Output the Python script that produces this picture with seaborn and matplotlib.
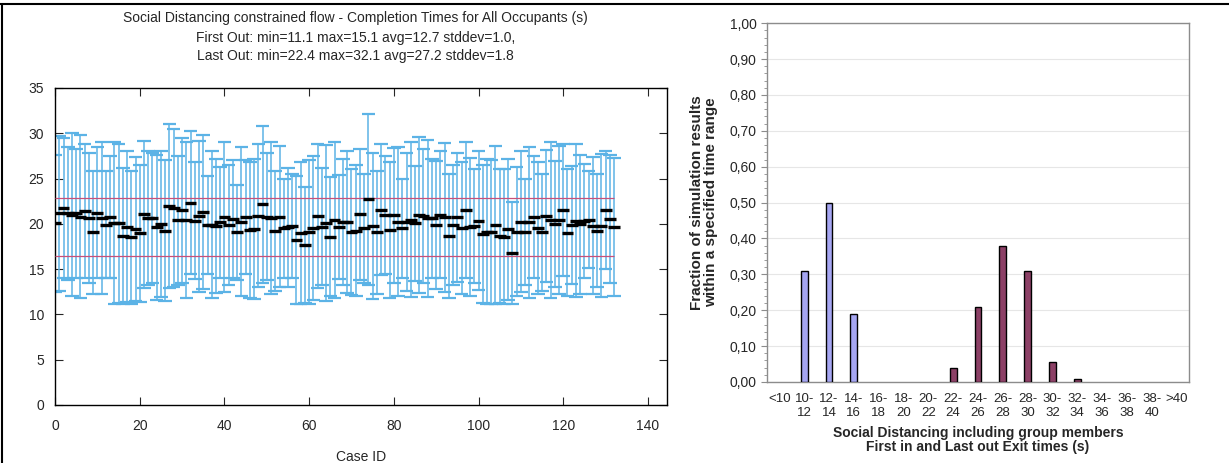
import numpy as np
import pandas as pd
import seaborn as sns
import matplotlib.pyplot as plt
from matplotlib.ticker import MultipleLocator, FuncFormatter

# left panel: first-out / last-out completion time per case (s)
first_out = [
    12.5, 12.6, 14.0, 13.8, 12.0, 14.0, 11.8, 14.0, 13.5, 12.3,
    14.0, 12.3, 14.0, 14.0, 11.2, 11.3, 11.1, 11.4, 11.2, 11.5,
    11.4, 12.9, 13.2, 13.5, 11.6, 11.9, 11.5, 12.9, 13.0, 13.3,
    13.5, 11.8, 14.5, 13.9, 12.5, 12.8, 14.5, 11.8, 12.4, 14.0,
    12.5, 13.2, 14.0, 13.8, 12.0, 14.5, 11.8, 11.7, 13.0, 13.5,
    13.8, 12.3, 12.6, 13.0, 14.0, 13.0, 14.0, 11.2, 11.1, 11.3,
    11.1, 11.6, 12.9, 13.2, 11.5, 12.0, 11.8, 13.9, 13.2, 12.4,
    12.1, 12.0, 13.8, 13.5, 13.3, 11.7, 12.3, 14.3, 14.5, 11.8,
    13.5, 12.0, 14.0, 12.6, 11.9, 13.7, 12.4, 13.5, 11.9, 14.0,
    12.8, 14.0, 12.5, 11.8, 13.2, 13.6, 12.2, 14.0, 12.0, 13.5,
    12.7, 11.3, 11.1, 11.2, 11.1, 11.3, 11.2, 11.6, 11.2, 12.0,
    12.5, 13.3, 11.8, 14.0, 12.3, 12.6, 13.6, 11.8, 13.0, 12.2,
    14.2, 12.0, 13.4, 11.9, 12.3, 14.0, 15.1, 12.2, 13.0, 11.9,
    15.0, 13.5, 12.0,
]
last_out = [
    27.6, 29.7, 29.5, 28.5, 30.0, 28.3, 29.8, 28.8, 27.8, 25.8,
    28.5, 29.0, 25.8, 27.5, 29.0, 28.8, 26.2, 28.0, 25.8, 27.4,
    26.5, 29.2, 28.0, 27.8, 27.6, 28.0, 27.0, 31.0, 30.5, 27.5,
    29.5, 29.0, 30.2, 26.8, 29.2, 29.8, 25.3, 28.0, 27.2, 26.3,
    29.0, 26.5, 27.0, 24.3, 28.5, 27.0, 26.8, 27.2, 28.8, 30.8,
    27.8, 29.0, 25.8, 28.6, 25.0, 26.2, 25.5, 25.3, 26.8, 24.1,
    27.0, 27.5, 28.8, 26.2, 28.7, 25.2, 29.0, 25.4, 27.2, 28.0,
    26.0, 26.5, 28.3, 25.5, 32.1, 27.8, 25.8, 28.8, 27.5, 26.8,
    28.4, 28.5, 25.0, 27.8, 29.0, 26.4, 29.6, 28.3, 29.3, 27.2,
    26.9, 28.0, 28.9, 25.5, 26.5, 27.8, 26.8, 29.0, 27.3, 26.0,
    28.0, 26.5, 27.2, 27.0, 28.6, 26.0, 26.0, 27.2, 22.4, 26.3,
    28.0, 25.0, 28.5, 27.5, 26.8, 25.5, 28.2, 29.0, 26.9, 28.6,
    28.8, 26.0, 26.4, 28.8, 27.6, 26.6, 25.8, 27.4, 25.5, 27.7,
    28.0, 27.6, 27.3,
]
ref_levels = [16.5, 22.8]

title_lines = [
    "Social Distancing constrained flow - Completion Times for All Occupants (s)",
    "First Out: min=11.1 max=15.1 avg=12.7 stddev=1.0,",
    "Last Out: min=22.4 max=32.1 avg=27.2 stddev=1.8",
]

# right panel: histogram of exit times
bins = ["<10", "10-\n12", "12-\n14", "14-\n16", "16-\n18", "18-\n20", "20-\n22",
        "22-\n24", "24-\n26", "26-\n28", "28-\n30", "30-\n32", "32-\n34",
        "34-\n36", "36-\n38", "38-\n40", ">40"]
first_frac = [0, 0.31, 0.50, 0.19, 0, 0, 0, 0, 0, 0, 0, 0, 0, 0, 0, 0, 0]
last_frac = [0, 0, 0, 0, 0, 0, 0, 0.04, 0.21, 0.38, 0.31, 0.055, 0.007, 0, 0, 0, 0]

sns.set_style("ticks")
plt.rcParams['font.family'] = ['Liberation Sans', 'DejaVu Sans']

fig = plt.figure(figsize=(12.29, 4.63), dpi=100)
ax1 = fig.add_axes([0.0448, 0.1253, 0.4979, 0.6847])
ax2 = fig.add_axes([0.624, 0.175, 0.3435, 0.775])

# ---- left panel
lo = np.array(first_out)
hi = np.array(last_out)
cid = np.arange(len(lo))
mid = (lo + hi) / 2
blue = '#5cb3e6'
ax1.vlines(cid, lo, hi, color=blue, lw=1.1, zorder=2)
ax1.hlines(lo, cid - 1.6, cid + 1.6, color=blue, lw=1.6, zorder=2)
ax1.hlines(hi, cid - 1.6, cid + 1.6, color=blue, lw=1.6, zorder=2)
ax1.hlines(ref_levels, 0, cid[-1], color='#c8507a', lw=0.9, zorder=3)
ax1.hlines(mid, cid - 1.4, cid + 1.4, color='black', lw=2.4, zorder=4)

ax1.set_xlim(0, 144.5)
ax1.set_ylim(0, 35)
ax1.xaxis.set_major_locator(MultipleLocator(20))
ax1.yaxis.set_major_locator(MultipleLocator(5))
ax1.tick_params(direction='in', top=True, right=True, length=6, labelsize=10,
                pad=8)
ax1.tick_params(axis='x', pad=10)
for s in ax1.spines.values():
    s.set_linewidth(1.0)
    s.set_color('black')
ax1.set_xlabel("Case ID", fontsize=10, labelpad=12)

for y, t in zip([0.961, 0.918, 0.879], title_lines):
    fig.text(0.289, y, t, ha='center', va='center', fontsize=10)

# ---- right panel
rows = []
for b, f, l in zip(bins, first_frac, last_frac):
    if f > 0:
        rows.append({'bin': b, 'frac': f, 'series': 'First out'})
    if l > 0:
        rows.append({'bin': b, 'frac': l, 'series': 'Last out'})
df = pd.DataFrame(rows)

sns.barplot(data=df, x='bin', y='frac', hue='series', order=bins, dodge=False,
            palette={'First out': '#9999ff', 'Last out': '#993366'},
            edgecolor='black', linewidth=1.0, width=0.28, ax=ax2, legend=False,
            zorder=3)
ax2.set_ylim(0, 1.0)
ax2.set_xlim(-0.5, len(bins) - 0.5)
ax2.yaxis.set_major_locator(MultipleLocator(0.1))
ax2.yaxis.set_minor_locator(MultipleLocator(0.02))
ax2.yaxis.set_major_formatter(FuncFormatter(lambda v, p: f"{v:.2f}".replace('.', ',')))
ax2.grid(axis='y', color='#e6e6e6', lw=0.8, zorder=0)
for s in ax2.spines.values():
    s.set_color('#8c8c8c')
    s.set_linewidth(1.0)
ax2.tick_params(axis='y', which='major', length=4, color='#8c8c8c', labelsize=10)
ax2.tick_params(axis='y', which='minor', length=2, color='#8c8c8c')
ax2.tick_params(axis='x', length=0, labelsize=9.5, pad=8)
ax2.set_xlabel("Social Distancing including group members\nFirst in and Last out Exit times (s)",
               fontsize=10, fontweight='bold', labelpad=5, linespacing=1.0)
ax2.set_ylabel("Fraction of simulation results\nwithin a specified time range",
               fontsize=11, fontweight='bold', labelpad=8, linespacing=1.0)

# page frame lines
fig.add_artist(plt.Line2D([0, 1], [0.991, 0.991], color='black', lw=1.5))
fig.add_artist(plt.Line2D([0.002, 0.002], [0, 0.991], color='black', lw=1.5))

fig.savefig('out.png', dpi=100)
